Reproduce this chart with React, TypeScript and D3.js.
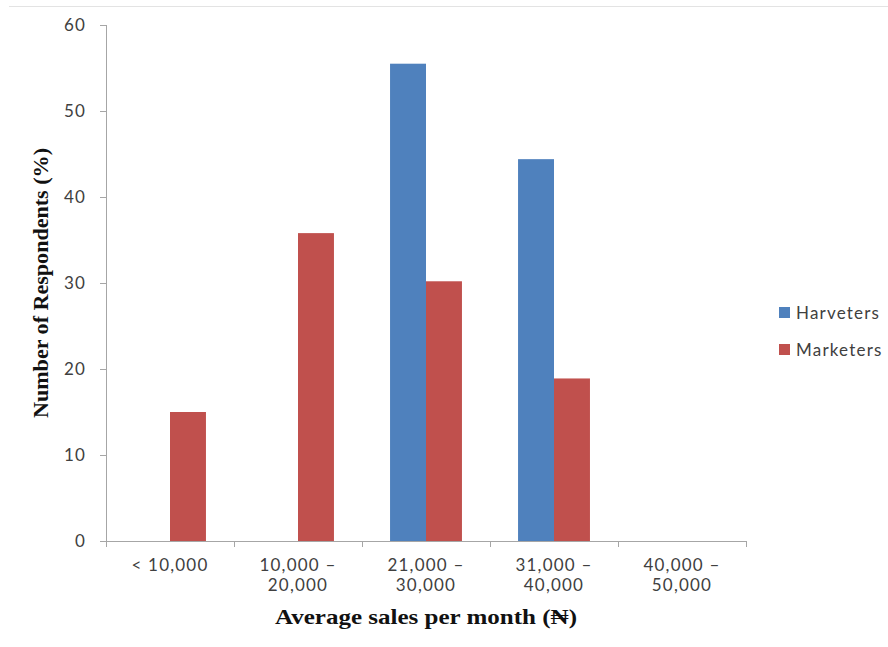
import React from "react";
import * as d3 from "d3";

const categories: string[][] = [
  ["< 10,000"],
  ["10,000 –", "20,000"],
  ["21,000 –", "30,000"],
  ["31,000 –", "40,000"],
  ["40,000 –", "50,000"],
];
const seriesNames = ["Harveters", "Marketers"];
const harvesters = [0, 0, 55.5, 44.4, 0];
const marketers = [15, 35.8, 30.2, 18.9, 0];
const yTicks = [0, 10, 20, 30, 40, 50, 60];
const colors = ["#4F81BD", "#C0504D"];

export default function App() {
  const W = 888, H = 647;
  const left = 106, right = 746, top = 25, bottom = 541;
  const keys = categories.map((_, i) => String(i));
  const x = d3.scaleBand<string>().domain(keys).range([left, right]).paddingInner(0).paddingOuter(0);
  const inner = d3.scaleBand<string>().domain(seriesNames).range([0, x.bandwidth()]).paddingInner(0).paddingOuter(0.78);
  const y = d3.scaleLinear().domain([0, 60]).range([bottom, top]);
  const series = [harvesters, marketers];
  const tickFont = "Lato, 'Open Sans', sans-serif";
  const axisColor = "#a6a6a6";
  const textColor = "#404040";
  const fs = 17;
  const ls = 1.2;

  return (
    <svg width={W} height={H} style={{ position: "absolute", left: 0, top: 0, background: "#fff" }}>
      <line x1={9} x2={888} y1={6.5} y2={6.5} stroke="#e3e3e3" strokeWidth={1} />
      {series.map((vals, s) =>
        vals.map((v, i) =>
          v > 0 ? (
            <rect
              key={`${s}-${i}`}
              x={(x(keys[i]) as number) + (inner(seriesNames[s]) as number)}
              y={y(v)}
              width={inner.bandwidth()}
              height={bottom - y(v)}
              fill={colors[s]}
            />
          ) : null
        )
      )}
      {/* Y axis */}
      <line x1={left + 0.5} x2={left + 0.5} y1={top} y2={bottom} stroke={axisColor} />
      {yTicks.map((t) => (
        <g key={t}>
          <line x1={left - 6} x2={left} y1={Math.round(y(t)) + 0.5} y2={Math.round(y(t)) + 0.5} stroke={axisColor} />
          <text x={left - 20} y={y(t)} dy="0.35em" textAnchor="end" fontFamily={tickFont} fontSize={fs} letterSpacing={ls} fill={textColor}>
            {t}
          </text>
        </g>
      ))}
      {/* X axis */}
      <line x1={left} x2={right} y1={bottom + 0.5} y2={bottom + 0.5} stroke={axisColor} />
      {[...keys.map((k) => x(k) as number), right].map((p, i) => (
        <line key={i} x1={Math.round(p) + 0.5} x2={Math.round(p) + 0.5} y1={bottom} y2={bottom + 6} stroke={axisColor} />
      ))}
      {categories.map((lines, i) => (
        <text key={i} x={(x(keys[i]) as number) + x.bandwidth() / 2} y={571} textAnchor="middle" fontFamily={tickFont} fontSize={fs} letterSpacing={ls} fill={textColor}>
          {lines.map((l, j) => (
            <tspan key={j} x={(x(keys[i]) as number) + x.bandwidth() / 2} dy={j === 0 ? 0 : 20}>
              {l}
            </tspan>
          ))}
        </text>
      ))}
      {/* Axis titles */}
      <text x={(left + right) / 2} y={624} textAnchor="middle" fontFamily="'Liberation Serif', serif" fontWeight="bold" fontSize={21} textLength={302} lengthAdjust="spacingAndGlyphs" fill="#111">
        Average sales per month (₦)
      </text>
      <text transform={`translate(48, ${(top + bottom) / 2}) rotate(-90)`} textAnchor="middle" fontFamily="'Liberation Serif', serif" fontWeight="bold" fontSize={20} textLength={270} lengthAdjust="spacingAndGlyphs" fill="#111">
        Number of Respondents (%)
      </text>
      {/* Legend */}
      {seriesNames.map((n, i) => (
        <g key={n} transform={`translate(779, ${307 + i * 37})`}>
          <rect x={0} y={0} width={11} height={11} fill={colors[i]} />
          <text x={17} y={6} dy="0.35em" fontFamily={tickFont} fontSize={fs} letterSpacing={ls} fill={textColor}>
            {n}
          </text>
        </g>
      ))}
    </svg>
  );
}
